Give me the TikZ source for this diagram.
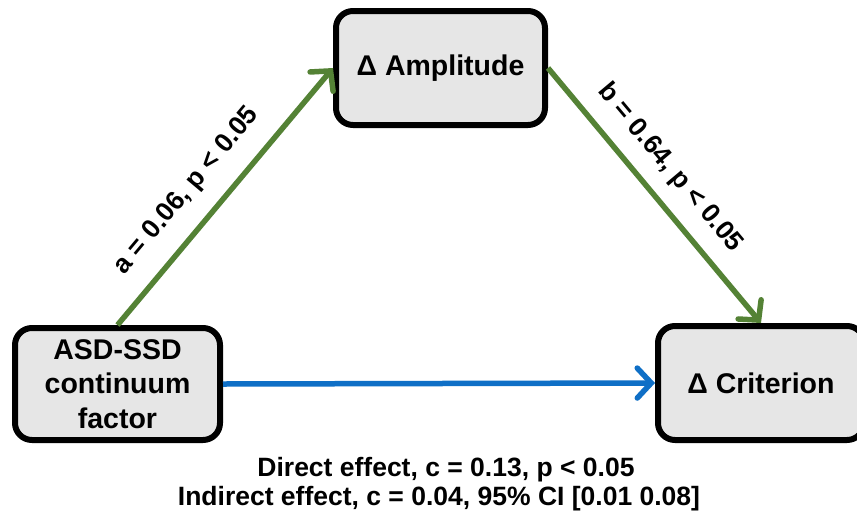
\documentclass[tikz,border=0pt]{standalone}
\usepackage{fontspec}
\setmainfont{Liberation Sans}
\usetikzlibrary{arrows.meta}
\definecolor{pathgreen}{HTML}{548235}
\definecolor{pathblue}{HTML}{0F6FC6}
\definecolor{boxgray}{HTML}{E6E6E6}
\tikzset{
  varbox/.style={draw=black, line width=6pt, fill=boxgray, rounded corners=17pt,
    font=\fontsize{28.5}{34.5}\selectfont\bfseries, align=center, inner sep=0pt},
  greenarrow/.style={draw=pathgreen, line width=5.5pt,
    -{Straight Barb[length=14pt,width=30pt,line cap=round]}},
  bluearrow/.style={draw=pathblue, line width=5.5pt,
    -{Straight Barb[length=14pt,width=30pt,line cap=round]}},
  lbl/.style={font=\fontsize{26.5}{29}\selectfont\bfseries, inner sep=0pt},
}
\begin{document}
\begin{tikzpicture}[x=1pt,y=-1pt]
\useasboundingbox (0,0) rectangle (857,515);
\clip (0,0) rectangle (857,515);
\node[varbox, minimum width=209pt, minimum height=114pt] (amp) at (440.5,68) {Δ Amplitude};
\node[varbox, minimum width=205pt, minimum height=112pt] (asd) at (117.5,384) {ASD-SSD\\continuum\\factor};
\node[varbox, minimum width=206pt, minimum height=114pt] (crit) at (761,383) {Δ Criterion};
\draw[greenarrow] (asd.north) -- (amp.west);
\draw[greenarrow] (amp.east) -- (crit.north);
\draw[bluearrow] (asd.east) -- (crit.west);
\node[lbl, rotate=50] (la) at (187,191) {a = 0.06, p < 0.05};
\node[lbl, rotate=-50] (lb) at (670,168) {b = 0.64, p < 0.05};
\node[lbl, anchor=base] (eff1) at (446,476) {Direct effect, c = 0.13, p < 0.05};
\node[lbl, anchor=base] (eff2) at (439,505) {Indirect effect, c = 0.04, 95\% CI [0.01 0.08]};
\end{tikzpicture}
\end{document}
